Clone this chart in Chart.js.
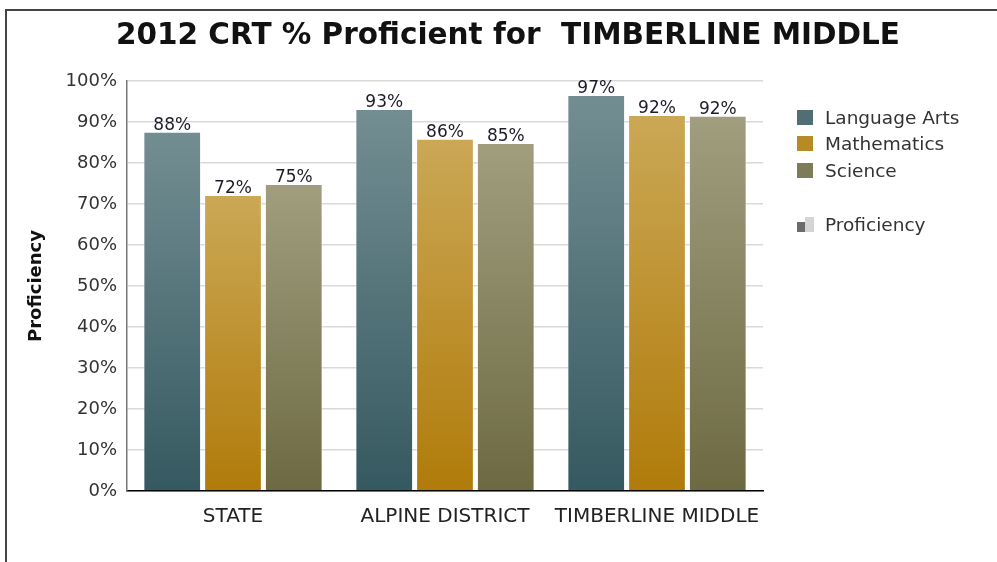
<!DOCTYPE html>
<html>
<head>
<meta charset="utf-8">
<script src="https://cdn.jsdelivr.net/npm/chart.js@4/dist/chart.umd.min.js"></script>
<style>
  html, body { margin: 0; padding: 0; background: #fff; }
  #wrap { position: relative; width: 997px; height: 562px; overflow: hidden; font-family: "DejaVu Sans", sans-serif; }
  #frame { position: absolute; left: 5px; top: 9px; right: -10px; bottom: -10px; border-top: 2px solid #444; border-left: 2px solid #444; }
  #title { position: absolute; left: 0; top: 17px; width: 1016px; text-align: center; font-weight: bold; font-size: 29.5px; color: #111; }
  #legend { position: absolute; left: 797px; top: 104px; font-size: 18.5px; color: #333; }
  .item { display: flex; align-items: center; height: 26.5px; }
  .box { width: 16px; height: 15px; margin-right: 12px; }
  .gap { height: 28px; }
  .prof { position: relative; width: 18px; height: 15px; margin-right: 10px; }
  .prof .dk { position: absolute; left: 0; bottom: 0; width: 8px; height: 10px; background: #6b6b6b; }
  .prof .lt { position: absolute; left: 8px; bottom: 0; width: 9px; height: 15px; background: #d4d4d4; }
  canvas { position: absolute; left: 0; top: 0; }
</style>
</head>
<body>
<div id="wrap">
  <div id="frame"></div>
  <canvas id="chart" width="997" height="562"></canvas>
  <div id="title">2012 CRT % Proficient for&nbsp; TIMBERLINE MIDDLE</div>
  <div id="legend"></div>
</div>
<script>
// categories and series
const categories = ["STATE", "ALPINE DISTRICT", "TIMBERLINE MIDDLE"];
const seriesNames = ["Language Arts", "Mathematics", "Science"];
const languageArts = [87.6, 93.2, 96.6];
const mathematics = [72.2, 85.9, 91.7];
const science = [74.9, 84.9, 91.5];
const yTicks = [0, 10, 20, 30, 40, 50, 60, 70, 80, 90, 100];

// gradient colours per series: [top, bottom]
const shades = [
  ["#738e93", "#355960"],
  ["#cba856", "#b07b0a"],
  ["#a09e7e", "#6d6a42"]
];
const legendColors = ["#4f6e75", "#b68a27", "#7e7c56"];

// legend (html)
const legendEl = document.getElementById("legend");
legendEl.innerHTML = seriesNames.map((n, i) =>
  `<div class="item"><div class="box" style="background:${legendColors[i]}"></div>${n}</div>`
).join("") + `<div class="gap"></div><div class="item"><div class="prof"><div class="dk"></div><div class="lt"></div></div>Proficiency</div>`;

// bar fill: vertical gradient from top of bar to its base
function barFill(idx){
  return (ctx) => {
    const chart = ctx.chart;
    const y = chart.scales && chart.scales.y;
    if (ctx.type !== "data" || !y) return shades[idx][1];
    const top = y.getPixelForValue(ctx.raw);
    const bot = y.getPixelForValue(0);
    if (!isFinite(top) || !isFinite(bot) || top === bot) return shades[idx][1];
    const g = chart.ctx.createLinearGradient(0, top, 0, bot);
    g.addColorStop(0, shades[idx][0]);
    g.addColorStop(1, shades[idx][1]);
    return g;
  };
}

// value labels above each bar
const valueLabels = {
  id: "valueLabels",
  afterDatasetsDraw(chart){
    const c = chart.ctx;
    c.save();
    c.font = "17px 'DejaVu Sans'";
    c.fillStyle = "#1c1c2a";
    c.textAlign = "center";
    c.textBaseline = "bottom";
    chart.data.datasets.forEach((ds, di) => {
      chart.getDatasetMeta(di).data.forEach((bar, i) => {
        c.fillText(Math.round(ds.data[i]) + "%", bar.x, bar.y + 2);
      });
    });
    c.restore();
  }
};

const allSeries = [languageArts, mathematics, science];

new Chart(document.getElementById("chart"), {
  type: "bar",
  data: {
    labels: categories,
    datasets: allSeries.map((d, i) => ({
      label: seriesNames[i],
      data: d,
      backgroundColor: barFill(i),
      borderColor: "rgba(255,255,255,0.45)",
      borderWidth: 1,
      categoryPercentage: 0.86,
      barPercentage: 0.95
    }))
  },
  options: {
    responsive: false,
    animation: false,
    layout: { padding: { left: 26, right: 234, top: 81, bottom: 20 } },
    plugins: { legend: { display: false }, title: { display: false }, tooltip: { enabled: false } },
    scales: {
      x: {
        grid: { display: false, drawTicks: false },
        border: { display: true, color: "#000", width: 1.5 },
        ticks: { color: "#222", font: { family: "DejaVu Sans", size: 20 }, padding: 14, maxRotation: 0 },
        afterFit: s => { s.height = 51; }
      },
      y: {
        min: 0, max: 100,
        afterBuildTicks: s => { s.ticks = yTicks.map(v => ({ value: v })); },
        grid: { color: "#d9d9d9", lineWidth: 1.5, drawTicks: false },
        border: { display: true, color: "#777", width: 1.5 },
        ticks: { color: "#333", font: { family: "DejaVu Sans", size: 18 }, padding: 10, callback: v => v + "%" },
        title: { display: true, text: "Proficiency", color: "#111", font: { family: "DejaVu Sans", size: 18, weight: "bold" }, padding: 0 },
        afterFit: s => { s.width = 101; }
      }
    }
  },
  plugins: [valueLabels]
});
</script>
</body>
</html>
